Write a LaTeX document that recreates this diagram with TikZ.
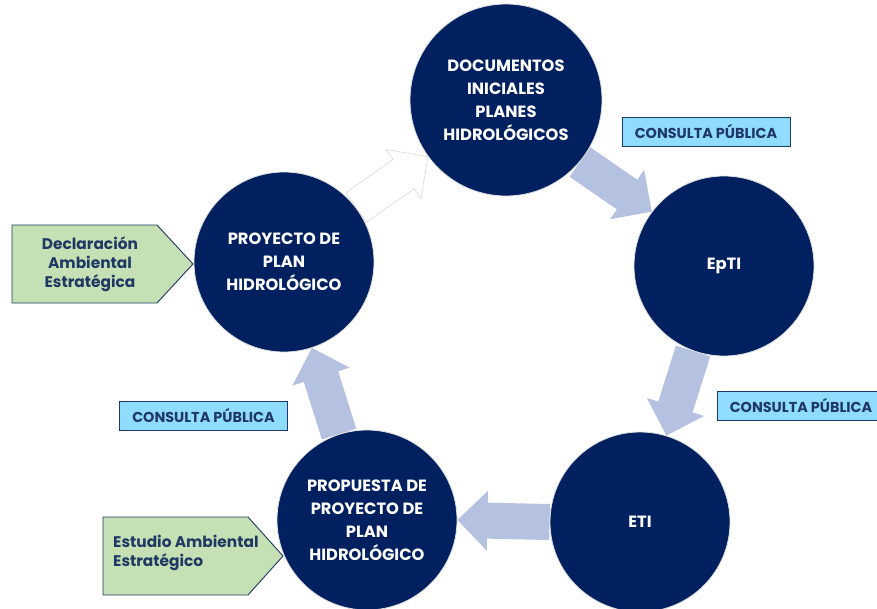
\documentclass[tikz,border=0pt]{standalone}
\usepackage{fontspec}
\setmainfont{Poppins}
\usetikzlibrary{calc,backgrounds}
\definecolor{navy}{RGB}{0,32,96}
\definecolor{navytext}{RGB}{31,56,100}
\definecolor{flowblue}{RGB}{180,193,224}
\definecolor{cyanbox}{RGB}{143,220,255}
\definecolor{sage}{RGB}{197,224,180}
\def\phase{\node[circle,fill=navy,draw=gray!25,line width=0.8pt,text=white,align=center,inner sep=0pt,font=\bfseries\fontsize{16.3}{23}\selectfont]}
\def\consulta{\node[draw=navytext,line width=0.9pt,fill=cyanbox,text=navytext,minimum width=168pt,minimum height=29pt,inner sep=0pt,font=\bfseries\fontsize{14.4}{16}\selectfont]}
\def\sagetext{\node[text=navytext,inner sep=0pt,font=\bfseries\fontsize{15.4}{19}\selectfont]}
% block arrow from tail #2 to tip #3
\newcommand\blockarrow[3][fill=flowblue]{%
  \coordinate (neck) at ($(#3)!30pt!(#2)$);
  \path[#1] ($(#2)!18pt!90:(#3)$) -- ($(neck)!18pt!90:(#3)$) -- ($(neck)!30pt!90:(#3)$)
    -- (#3) -- ($(neck)!30pt!-90:(#3)$) -- ($(neck)!18pt!-90:(#3)$) -- ($(#2)!18pt!-90:(#3)$) -- cycle;}

\begin{document}
\begin{tikzpicture}[x=1pt,y=-1pt]
\useasboundingbox (0,0) rectangle (877,608);
% phases
\phase[minimum size=192pt] (docs) at (506,100) {DOCUMENTOS\\INICIALES\\PLANES\\HIDROLÓGICOS};
\phase[minimum size=180pt] (epti) at (724,266) {EpTI};
\phase[minimum size=180pt] (eti) at (640,522) {ETI};
\phase[minimum size=180pt] (prop) at (367,520) {PROPUESTA DE\\PROYECTO DE\\PLAN\\HIDROLÓGICO};
\phase[minimum size=180pt] (proy) at (284,262) {PROYECTO DE\\PLAN\\HIDROLÓGICO};
% arrows behind the circles
\begin{scope}[on background layer]
\blockarrow{docs.-40}{epti.143}
\blockarrow{epti.-110}{eti.73}
\blockarrow{eti.180}{prop.0}
\blockarrow{prop.108}{proy.-72}
\blockarrow[fill=white,draw=gray!30,line width=0.6pt]{proy.37}{docs.-144}
\end{scope}
% consultation boxes
\consulta (cp1) at (706,132) {CONSULTA PÚBLICA};
\consulta (cp2) at (801,406) {CONSULTA PÚBLICA};
\consulta (cp3) at (203.5,416) {CONSULTA PÚBLICA};
% environmental documents
\draw[fill=sage,draw=navytext,line width=0.9pt] (12,225) -- (157,225) -- (193,264) -- (157,303) -- (12,303) -- cycle;
\sagetext[align=center] (dae) at (90,264) {Declaración\\Ambiental\\Estratégica};
\draw[fill=sage,draw=navytext,line width=0.9pt] (103,517) -- (248,517) -- (283,556) -- (248,595) -- (103,595) -- cycle;
\sagetext[align=left,anchor=west] (eae) at (113,553) {Estudio Ambiental\\Estratégico};
\end{tikzpicture}
\end{document}
